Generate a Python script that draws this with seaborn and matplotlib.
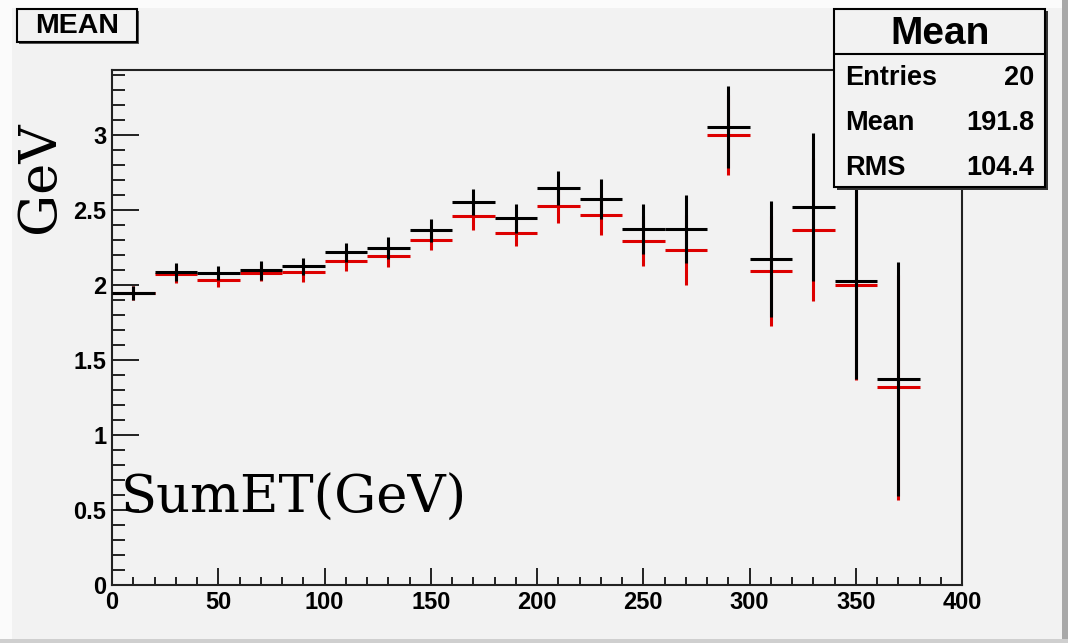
import matplotlib
matplotlib.use("Agg")
import matplotlib.pyplot as plt
import seaborn as sns
import pandas as pd
from matplotlib.patches import Rectangle
from matplotlib.lines import Line2D
from matplotlib.ticker import MultipleLocator, FuncFormatter

# bin centres of SumET (GeV), bin width 20
sumet_bins = [10, 30, 50, 70, 90, 110, 130, 150, 170, 190,
              210, 230, 250, 270, 290, 310, 330, 350, 370]
black_mean = [1.945, 2.087, 2.078, 2.096, 2.122, 2.216, 2.244, 2.362, 2.551, 2.442,
              2.644, 2.571, 2.371, 2.371, 3.051, 2.171, 2.518, 2.022, 1.371]
black_err = [0.045, 0.06, 0.045, 0.064, 0.056, 0.062, 0.072, 0.078, 0.089, 0.098,
             0.116, 0.136, 0.169, 0.225, 0.271, 0.389, 0.493, 0.65, 0.778]
red_mean = [1.945, 2.073, 2.033, 2.078, 2.082, 2.156, 2.189, 2.296, 2.456, 2.344,
            2.527, 2.464, 2.289, 2.233, 2.998, 2.089, 2.367, 2.000, 1.316]
red_err = [0.045, 0.06, 0.049, 0.056, 0.066, 0.067, 0.071, 0.067, 0.094, 0.088,
           0.117, 0.131, 0.167, 0.233, 0.265, 0.367, 0.478, 0.633, 0.749]
bin_halfwidth = 10

stats_labels = ["Entries", "Mean", "RMS"]
stats_values = ["20", "191.8", "104.4"]

df = pd.DataFrame({"sumet": sumet_bins, "black": black_mean, "black_err": black_err,
                   "red": red_mean, "red_err": red_err})

bg = "#f2f2f2"
sns.set_theme(style="ticks", rc={"axes.facecolor": bg, "figure.facecolor": bg,
                                 "axes.edgecolor": "#222222", "axes.linewidth": 1.5,
                                 "text.color": "black", "xtick.color": "black",
                                 "ytick.color": "black"})
plt.rcParams["font.family"] = ["Liberation Sans", "DejaVu Sans"]

fig = plt.figure(figsize=(10.68, 6.43), dpi=100)
ax = fig.add_axes([112 / 1068, 58 / 643, 850 / 1068, 515 / 643])

ax.errorbar(df["sumet"], df["red"], xerr=bin_halfwidth, yerr=df["red_err"], fmt="none",
            ecolor="#dd0000", elinewidth=2.2, capsize=0, zorder=2)
ax.errorbar(df["sumet"], df["black"], xerr=bin_halfwidth, yerr=df["black_err"], fmt="none",
            ecolor="black", elinewidth=2.2, capsize=0, zorder=3)

ax.set_xlim(0, 400)
ax.set_ylim(0, 3.43)
ax.xaxis.set_major_locator(MultipleLocator(50))
ax.xaxis.set_minor_locator(MultipleLocator(10))
ax.yaxis.set_major_locator(MultipleLocator(0.5))
ax.yaxis.set_minor_locator(MultipleLocator(0.1))
ax.yaxis.set_major_formatter(FuncFormatter(lambda v, p: f"{v:g}"))
ax.tick_params(axis="both", which="both", direction="in", width=1.4, color="#222222",
               labelsize=17, labelcolor="black", top=False, right=False)
ax.tick_params(axis="y", which="major", length=19.5, pad=4)
ax.tick_params(axis="y", which="minor", length=9.5)
ax.tick_params(axis="x", which="major", length=12, pad=4)
ax.tick_params(axis="x", which="minor", length=6)
for lab in ax.get_xticklabels() + ax.get_yticklabels():
    lab.set_fontweight("bold")
ax.set_xlabel("")
ax.set_ylabel("")
sns.despine(ax=ax, top=False, right=False)

# axis titles in serif, placed like the ROOT canvas
fig.text(40 / 1068, 1 - 177 / 643, "GeV", rotation=90, ha="center", va="center",
         fontsize=38, family=["DejaVu Serif"])
fig.text(121 / 1068, 1 - 513 / 643, "SumET(GeV)", ha="left", va="baseline",
         fontsize=38, family=["DejaVu Serif"])

# canvas bevel
W, H = 1068, 643
def fig_rect(x0, y0, x1, y1, **kw):
    r = Rectangle((x0 / W, 1 - y1 / H), (x1 - x0) / W, (y1 - y0) / H,
                  transform=fig.transFigure, **kw)
    fig.patches.append(r)
    return r

fig_rect(0, 0, 12, H, facecolor="#fbfbfb", edgecolor="none", zorder=0.5)
fig_rect(0, 0, W, 8, facecolor="#fbfbfb", edgecolor="none", zorder=0.5)
fig_rect(W - 6, 0, W, H, facecolor="#a8a8a8", edgecolor="none", zorder=0.5)
fig_rect(0, H - 4, W, H, facecolor="#cfcfcf", edgecolor="none", zorder=0.5)

# title box
fig_rect(19, 11, 139, 44, facecolor="#555555", edgecolor="none", zorder=4)
fig_rect(17, 9, 137, 42, facecolor=bg, edgecolor="black", linewidth=1.5, zorder=5)
fig.text(77 / W, 1 - 26 / H, "MEAN", ha="center", va="center", fontsize=20.5,
         fontweight="bold", zorder=6)

# stats box
fig_rect(837, 11, 1048, 190, facecolor="#333333", edgecolor="none", zorder=4)
fig_rect(834, 9, 1045, 187, facecolor=bg, edgecolor="black", linewidth=1.5, zorder=5)
fig.lines.append(Line2D([834 / W, 1045 / W], [1 - 54 / H, 1 - 54 / H],
                        transform=fig.transFigure, color="black", linewidth=1.5, zorder=6))
fig.text(940 / W, 1 - 34 / H, "Mean", ha="center", va="center", fontsize=28,
         fontweight="bold", zorder=6)
for i, (lab, val) in enumerate(zip(stats_labels, stats_values)):
    yb = 1 - (85 + 45 * i) / H
    fig.text(845 / W, yb, lab, ha="left", va="baseline", fontsize=19.5,
             fontweight="bold", zorder=6)
    fig.text(1034 / W, yb, val, ha="right", va="baseline", fontsize=19.5,
             fontweight="bold", zorder=6)

fig.savefig("out.png", dpi=100, facecolor=bg)
